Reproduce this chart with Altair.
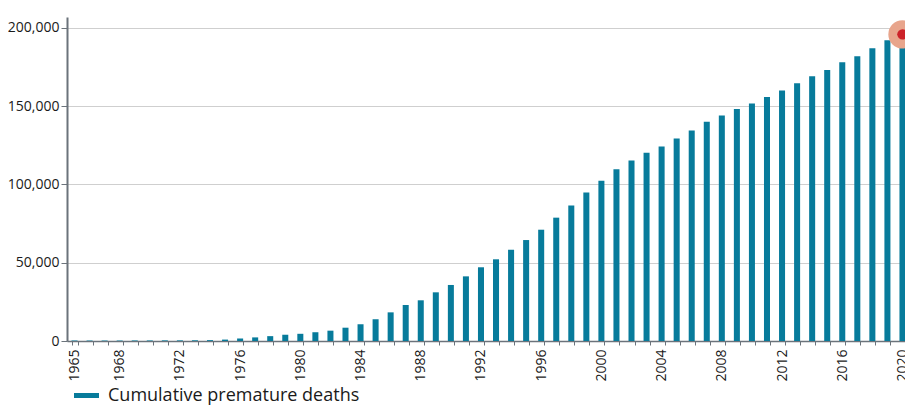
import altair as alt
import pandas as pd

years = list(range(1965, 2021))
deaths = [300, 300, 300, 300, 350, 350, 400, 400, 450, 550,
          900, 1600, 2300, 3100, 4000,
          4600, 5600, 6600, 8500, 10700, 13900, 18300, 23000, 26000, 31100,
          35800, 41300, 47100, 52200, 58300, 64500, 71100, 78800, 86500, 94800,
          102400, 109800, 115300, 120200, 124200, 129300, 134500, 140000, 144000, 148300,
          151700, 155900, 160000, 164700, 169100, 173200, 178100, 181900, 187000, 192100,
          196000]
series_name = "Cumulative premature deaths"
y_ticks = [0, 50000, 100000, 150000, 200000]
highlight_year = [2020]
highlight_value = [195900]

df = pd.DataFrame({"year": years, "value": deaths, "series": [series_name] * len(years)})
hl = pd.DataFrame({"year": highlight_year, "value": highlight_value})

FONT = "Open Sans"
TEAL = "#077b9b"

xscale = alt.Scale(domain=years, paddingInner=0.6, paddingOuter=0.3)
yscale = alt.Scale(domain=[0, 207000], nice=False)

x_enc = alt.X("year:O", scale=xscale, title=None,
              axis=alt.Axis(labelAngle=270, tickBand="extent", tickSize=4,
                            labelExpr="(datum.value == 1965 || datum.value % 4 == 0) ? datum.label : ''",
                            labelFont=FONT, labelFontSize=14, labelColor="#1a1a1a",
                            labelPadding=4, domainColor="#6b737b", domainWidth=1.5,
                            tickColor="#6b737b", grid=False, labelOverlap=False))
y_enc = alt.Y("value:Q", scale=yscale, title=None,
              axis=alt.Axis(values=y_ticks, format=",.0f", tickSize=6, labelFont=FONT,
                            labelFontSize=14, labelColor="#1a1a1a", labelPadding=2,
                            domainColor="#6b737b", domainWidth=2, tickColor="#6b737b",
                            grid=True, gridColor="#cfcfcf", gridWidth=1))

bars = alt.Chart(df).mark_bar(opacity=1).encode(
    x=x_enc, y=y_enc,
    color=alt.Color("series:N", scale=alt.Scale(domain=[series_name], range=[TEAL]),
                    legend=alt.Legend(title=None, orient="none", legendX=7, legendY=366,
                                      symbolType="M-1,-0.2H1V0.2H-1Z", symbolSize=625,
                                      symbolStrokeWidth=0, symbolOpacity=1,
                                      labelFont=FONT, labelFontSize=18, labelColor="#1a1a1a",
                                      labelOffset=9, labelLimit=500)))

halo = alt.Chart(hl).mark_circle(size=800, color="#e8a58c", opacity=1).encode(
    x=alt.X("year:O", scale=xscale), y=alt.Y("value:Q", scale=yscale))
dot = alt.Chart(hl).mark_circle(size=110, color="#cc2229", opacity=1).encode(
    x=alt.X("year:O", scale=xscale), y=alt.Y("value:Q", scale=yscale))

chart = alt.layer(bars, halo, dot).properties(
    width=843, height=324,
    autosize=alt.AutoSizeParams(type="none"),
    padding={"left": 59, "top": 9, "right": -5, "bottom": 67},
).configure_view(stroke=None)

chart.save("out.html", embed_options={"renderer": "svg", "actions": False})
